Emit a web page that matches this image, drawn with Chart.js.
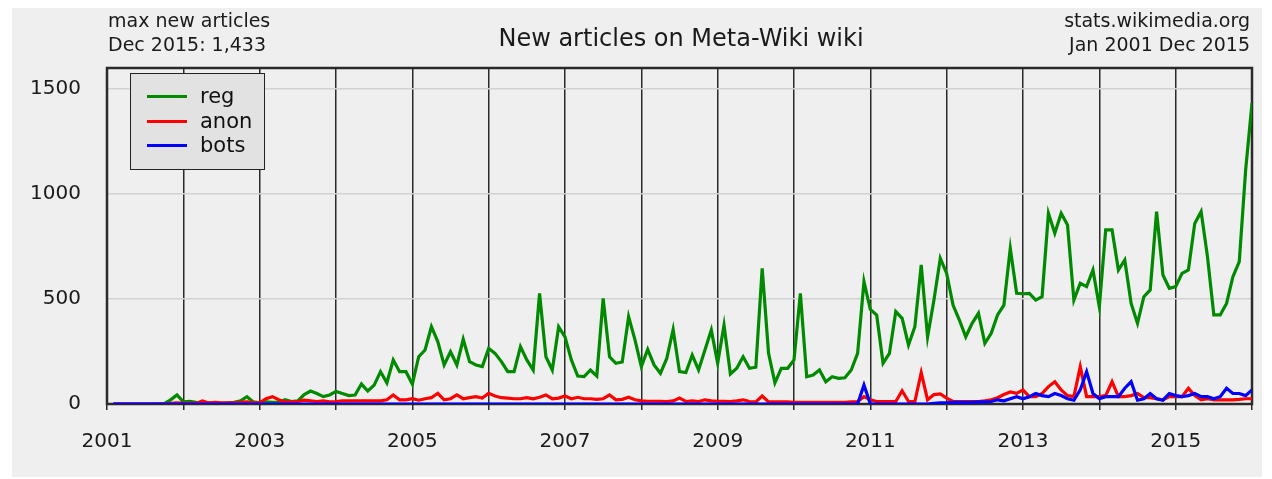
<!DOCTYPE html>
<html><head><meta charset="utf-8">
<script src="https://cdn.jsdelivr.net/npm/chart.js@4"></script>
<style>
body{margin:0;background:#fff;width:1272px;height:479px;overflow:hidden;font-family:"DejaVu Sans",sans-serif;}
#bg{position:absolute;left:12px;top:8px;width:1250px;height:469px;background:#efefef;}
#c{position:absolute;left:0;top:0;}
.t{position:absolute;color:#1a1a1a;white-space:nowrap;line-height:1;}
#legend{position:absolute;left:130px;top:73px;width:135px;height:97px;background:#e2e2e2;border:1.5px solid #222;box-sizing:border-box;}
.li{position:absolute;left:16px;font-size:21px;color:#111;line-height:1;}
.li span{display:inline-block;width:40px;height:3px;vertical-align:middle;margin-right:13px;position:relative;top:-1px;}
</style></head>
<body>
<div id="bg"></div>
<canvas id="c" width="1272" height="479"></canvas>
<div class="t" style="left:108px;top:11px;font-size:19px;">max new articles</div>
<div class="t" style="left:108px;top:35px;font-size:19px;">Dec 2015: 1,433</div>
<div class="t" style="left:0;width:1362px;text-align:center;top:26px;font-size:24px;">New articles on Meta-Wiki wiki</div>
<div class="t" style="right:22px;top:11px;font-size:19px;text-align:right;">stats.wikimedia.org</div>
<div class="t" style="right:22px;top:35px;font-size:19px;text-align:right;">Jan 2001 Dec 2015</div>
<div id="legend">
 <div class="li" style="top:12px"><span style="background:#008a00"></span>reg</div>
 <div class="li" style="top:37px"><span style="background:#ff0000"></span>anon</div>
 <div class="li" style="top:61px"><span style="background:#0000ff"></span>bots</div>
</div>
<script>
const seriesNames = ['reg','anon','bots'];
const reg = [
 0,0,0,0,0,0,0,0,2,20,43,10,
 12,8,5,5,4,3,5,8,15,35,10,5,
 10,8,8,20,12,15,45,62,50,35,43,60,
 50,40,43,95,62,90,154,101,210,154,154,95,
 225,257,368,297,186,249,186,308,202,186,178,265,
 241,202,154,154,273,210,162,527,225,162,368,320,
 210,133,130,162,133,503,225,194,200,416,305,178,
 260,186,146,217,355,154,150,233,162,257,352,194,
 376,143,170,225,170,175,646,241,101,170,170,210,
 527,130,138,162,106,130,122,125,162,241,583,450,
 424,194,241,440,408,281,368,662,320,495,694,622,
 471,400,320,384,432,289,337,424,471,741,527,525,
 527,495,511,908,813,908,852,495,575,559,638,463,
 829,829,638,686,479,384,511,543,916,614,551,559,
 622,638,860,916,702,424,424,479,606,678,1114,1433
];
const anon = [
 0,0,0,0,0,0,0,0,0,3,5,3,
 3,3,15,5,8,5,5,5,8,10,5,5,
 25,35,20,10,10,12,18,15,12,15,10,12,
 15,15,15,15,15,15,15,20,43,20,20,25,
 18,25,30,51,20,25,43,25,30,35,28,51,
 38,30,28,25,25,30,25,32,43,25,28,38,
 25,32,25,25,22,25,43,20,22,32,20,15,
 13,13,13,12,15,28,12,15,12,20,15,13,
 13,12,15,20,12,10,38,10,10,10,10,8,
 8,8,8,8,8,8,8,8,10,12,35,20,
 12,12,12,12,63,12,12,149,20,45,48,28,
 12,12,12,12,12,15,20,30,45,57,51,67,
 35,35,50,83,106,67,40,35,178,35,35,35,
 40,106,35,35,40,50,30,30,25,20,35,35,
 35,75,40,20,25,20,20,20,20,22,25,25
];
const bots = [
 0,0,0,0,0,0,0,0,0,0,0,0,
 0,0,0,0,0,0,0,0,0,0,0,0,
 0,0,0,0,0,0,0,0,0,0,0,0,
 0,0,0,0,0,0,0,0,0,0,0,0,
 0,0,0,0,0,0,0,0,0,0,0,0,
 0,0,0,0,0,0,0,0,0,0,0,0,
 0,0,0,0,0,0,0,0,0,0,0,0,
 0,0,0,0,0,0,0,0,0,0,0,0,
 0,0,0,0,0,0,0,0,0,0,0,0,
 0,0,0,0,0,0,0,0,0,0,90,0,
 0,0,0,0,0,0,0,0,0,3,5,5,
 8,8,8,8,10,10,12,20,15,25,35,25,
 35,50,40,35,50,40,25,18,67,154,50,25,
 35,35,35,75,106,18,25,50,25,18,50,40,
 35,40,50,35,35,25,35,75,50,50,40,67
];
const startYear = 2001;
const yearLines = [2001,2002,2003,2004,2005,2006,2007,2008,2009,2010,2011,2012,2013,2014,2015,2016];
const yearLabels = [2001,2003,2005,2007,2009,2011,2013,2015];
const yTicks = [0,500,1000,1500];

const toPts = arr => arr.map((v,i)=>({x:startYear+(i+1)/12, y:v}));
const FONT = 'DejaVu Sans';

const frame = {
  id:'frame',
  beforeDatasetsDraw(chart){
    const a = chart.chartArea, c = chart.ctx;
    c.save();
    c.strokeStyle = '#2a2a2a';
    c.lineWidth = 2.5;
    c.strokeRect(a.left, a.top, a.right-a.left, a.bottom-a.top);
    c.restore();
  }
};

new Chart(document.getElementById('c'), {
  type:'line',
  data:{datasets:[
    {label:'reg', data:toPts(reg), borderColor:'#008a00', borderWidth:3.2, pointRadius:0, tension:0, order:3},
    {label:'anon', data:toPts(anon), borderColor:'#ff0000', borderWidth:3.2, pointRadius:0, tension:0, order:2},
    {label:'bots', data:toPts(bots), borderColor:'#0000ff', borderWidth:3.2, pointRadius:0, tension:0, order:1}
  ]},
  options:{
    responsive:false, animation:false,
    layout:{padding:{left:0,right:17,top:68,bottom:0}},
    plugins:{legend:{display:false}, tooltip:{enabled:false}},
    scales:{
      x:{type:'linear', min:2001, max:2016,
        afterBuildTicks:s=>{ s.ticks = yearLines.map(v=>({value:v})); },
        afterFit:s=>{ s.height = 75; },
        ticks:{autoSkip:false, maxRotation:0, color:'#1a1a1a', padding:20,
          font:{family:FONT,size:20},
          callback:v=> yearLabels.includes(v) ? String(v) : ''},
        grid:{color:'#2a2a2a', lineWidth:1.5, tickLength:6, tickColor:'#2a2a2a'},
        border:{display:false}},
      y:{min:0, max:1600,
        afterBuildTicks:s=>{ s.ticks = yTicks.map(v=>({value:v})); },
        afterFit:s=>{ s.width = 107; },
        ticks:{color:'#1a1a1a', padding:26, font:{family:FONT,size:20},
          callback:v=>String(v)},
        grid:{color:'#d2d2d2', lineWidth:1.5, drawTicks:false},
        border:{display:false}}
    }
  },
  plugins:[frame]
});
</script>
</body></html>
